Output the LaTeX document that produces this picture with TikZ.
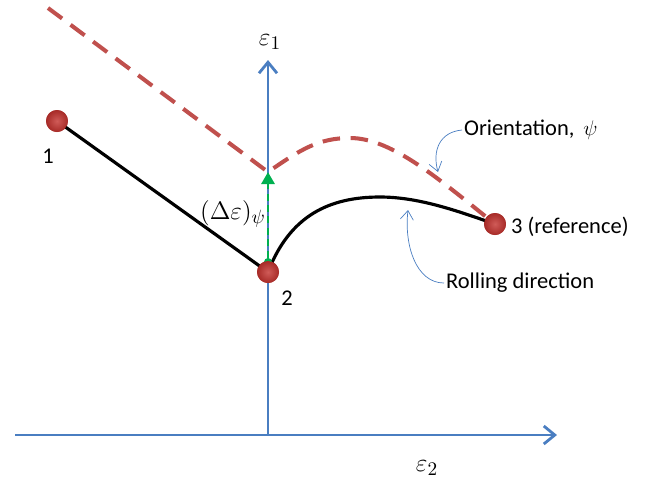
\documentclass[tikz,border=0pt]{standalone}
\usepackage{fontspec}
\setmainfont{Carlito}
\usepackage{tikz}
\usetikzlibrary{arrows.meta,positioning}
\definecolor{axisBlue}{RGB}{74,126,193}
\definecolor{oriRed}{RGB}{192,80,77}
\definecolor{ptRed}{RGB}{196,50,46}
\definecolor{incGreen}{RGB}{0,176,80}

\begin{document}
\begin{tikzpicture}[
  x=0.02cm,y=-0.02cm,
  font=\fontsize{12.8}{15}\selectfont,
  axis/.style={-{Straight Barb[length=2.2mm,width=3.6mm]},line width=1.6pt,axisBlue},
  pt/.style={circle,inner sep=0pt,minimum size=0.44cm,shading=radial,inner color=ptRed!80!white,outer color=ptRed!85!black},
  pathline/.style={line width=1.8pt,black},
  oriline/.style={line width=2.3pt,oriRed,dash pattern=on 10pt off 6pt},
  callout/.style={-{Straight Barb[length=1.8mm,width=2.6mm]},thin,axisBlue},
  lbl/.style={inner sep=1pt},
  mlbl/.style={inner sep=1pt,font=\fontsize{15}{17}\selectfont}
]
\useasboundingbox (0,0) rectangle (669,481);

% axes
\coordinate (origin) at (268,435);
\coordinate (xstart) at (15,435);
\coordinate (xend) at (557,435);
\coordinate (yend) at (268,60);
\draw[axis] (xstart) -- (xend);
\draw[axis] (origin) -- (yend);
\node[mlbl] (e1) at (270,42) {$\varepsilon_1$};
\node[mlbl] (e2) at (427,468) {$\varepsilon_2$};

% orientation (dashed)
\coordinate (ostart) at (48,8);
\coordinate (cross) at (268,172);
\node[pt] (p3) at (495,224) {};
\draw[oriline] (ostart) -- (cross) .. controls (300,150) and (318,138) .. (350,138) .. controls (392,138) and (440,180) .. (p3.center);

% rolling path
\node[pt] (p1) at (57,121) {};
\node[pt] (p2) at (268,272) {};
\draw[pathline] (p1.center) -- (p2.center) .. controls (290,215) and (330,197) .. (380,197) .. controls (420,197) and (460,212) .. (p3.center);

% increment
\node[circle,fill=incGreen,inner sep=0pt,minimum size=0.16cm] (g0) at (268,262) {};
\draw[incGreen,line width=1.6pt,dash pattern=on 4pt off 2.5pt,-{Triangle[length=2.4mm,width=2.6mm]}] (g0) -- (cross);

% redraw points on top
\node[pt] at (p1) {};
\node[pt] at (p2) {};
\node[pt] at (p3) {};

% labels
\node[lbl] (l1) at (48,156) {1};
\node[lbl] (l2) at (287,298) {2};
\node[lbl,anchor=west] (l3) at (509,227) {3 (reference)};
\node[mlbl] (dl) at (233,214) {$(\Delta\varepsilon)_\psi$};
\node[lbl,anchor=west] (ori) at (462,130) {Orientation,\, $\psi$};
\node[lbl,anchor=west] (roll) at (444,283) {Rolling direction};

% callouts
\draw[callout] (ori.west) .. controls (440,132) and (432,150) .. (438,172);
\draw[callout] (roll.west) .. controls (416,283) and (404,245) .. (408,210);
\end{tikzpicture}
\end{document}
